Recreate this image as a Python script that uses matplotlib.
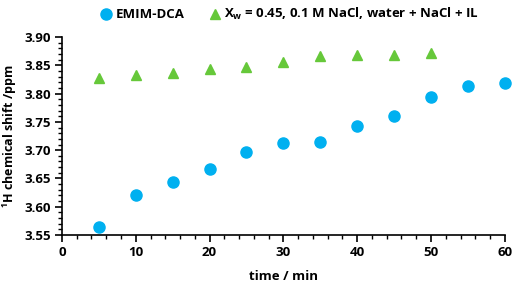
import matplotlib
matplotlib.use("Agg")
import matplotlib.pyplot as plt
from matplotlib.ticker import MultipleLocator

plt.rcParams['font.family'] = ['Open Sans', 'DejaVu Sans']
plt.rcParams['font.weight'] = 'bold'
plt.rcParams['mathtext.fontset'] = 'custom'
plt.rcParams['mathtext.bf'] = 'Open Sans:bold'
plt.rcParams['mathtext.rm'] = 'Open Sans:bold'

# EMIM-DCA series
t_emim = [5, 10, 15, 20, 25, 30, 35, 40, 45, 50, 55, 60]
shift_emim = [3.565, 3.620, 3.644, 3.666, 3.697, 3.713, 3.715, 3.742, 3.761, 3.794, 3.814, 3.818]

# Xw = 0.45 series
t_mix = [5, 10, 15, 20, 25, 30, 35, 40, 45, 50]
shift_mix = [3.828, 3.833, 3.837, 3.843, 3.847, 3.855, 3.866, 3.868, 3.869, 3.871]

fig = plt.figure(figsize=(5.12, 2.87), dpi=100)
ax = fig.add_axes([0.121, 0.181, 0.865, 0.690])

ax.plot(t_emim, shift_emim, 'o', color='#00B0F0', markersize=8, label='EMIM-DCA', clip_on=False)
ax.plot(t_mix, shift_mix, '^', color='#66C83A', markersize=7, clip_on=False,
        label='X$_\\mathbf{w}$ = 0.45, 0.1 M NaCl, water + NaCl + IL')

ax.set_xlim(0, 60)
ax.set_ylim(3.55, 3.90)
ax.xaxis.set_major_locator(MultipleLocator(10))
ax.xaxis.set_minor_locator(MultipleLocator(2))
ax.yaxis.set_major_locator(MultipleLocator(0.05))
ax.yaxis.set_minor_locator(MultipleLocator(0.01))
ax.yaxis.set_major_formatter(matplotlib.ticker.FormatStrFormatter('%.2f'))

for s in ['top', 'right']:
    ax.spines[s].set_visible(False)
for s in ['left', 'bottom']:
    ax.spines[s].set_linewidth(1.2)
ax.tick_params(which='major', length=5, width=1.2, labelsize=9.5, pad=3)
ax.tick_params(which='minor', length=3, width=1)
for lab in ax.get_xticklabels() + ax.get_yticklabels():
    lab.set_fontweight('bold')

ax.set_xlabel('time / min', fontsize=9.5, fontweight='bold', labelpad=8)
ax.set_ylabel('$^\\mathbf{1}$H chemical shift /ppm', fontsize=9, fontweight='bold', labelpad=4)

fig.legend(loc='upper center', bbox_to_anchor=(0.565, 1.02), ncol=2, frameon=False,
           handletextpad=0.2, columnspacing=1.8, handlelength=1.0,
           prop={'weight': 'bold', 'size': 9.5})

fig.savefig('out.png', dpi=100)
